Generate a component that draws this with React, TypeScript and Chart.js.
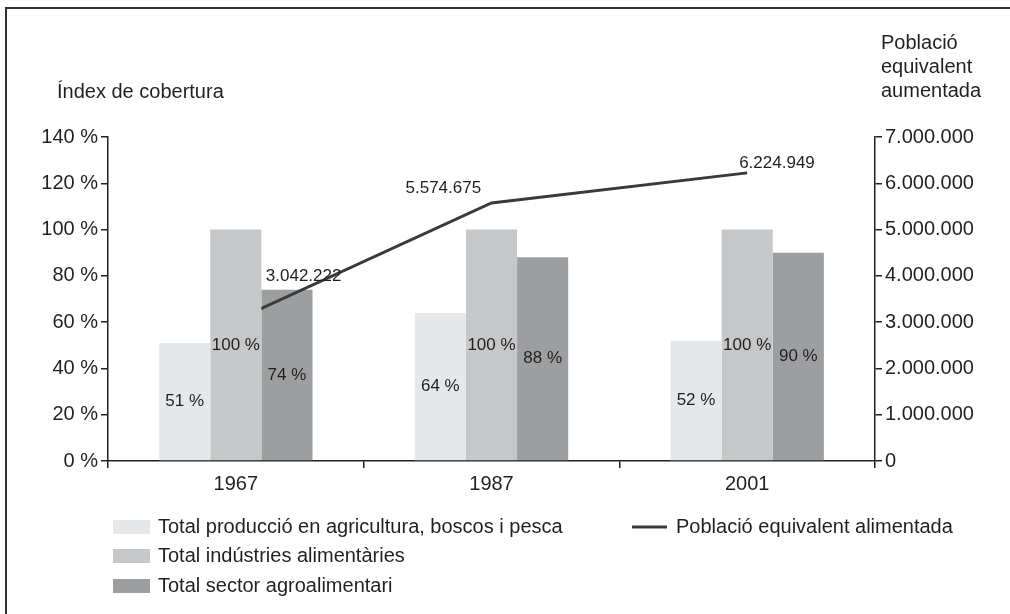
import React, { useEffect, useRef } from "react";
import { Chart, registerables } from "chart.js";

Chart.register(...registerables);

const categories = ["1967", "1987", "2001"];
const agricultura = [51, 64, 52];
const industries = [100, 100, 100];
const sector = [74, 88, 90];
const poblacio = [3042222, 5574675, 6224949];

const seriesNames = [
  "Total producció en agricultura, boscos i pesca",
  "Total indústries alimentàries",
  "Total sector agroalimentari",
  "Població equivalent alimentada",
];
const seriesColors = ["#e6e7e8", "#c6c7c9", "#9d9ea0", "#3a3a3a"];
const leftTitle = "Índex de cobertura";
const rightTitle = ["Població", "equivalent", "aumentada"];
const leftMax = 140;
const leftStep = 20;
const rightMax = 7000000;
const rightStep = 1000000;

// label offsets for the line values (relative to the point)
const lineLabelOffsets = [
  [30, -44],
  [-86, -15],
  [-8, -10],
];

const FONT = "'Liberation Sans', Arial, Helvetica, sans-serif";
const TEXT = "#231f20";

const fmt = (n: number) =>
  String(Math.round(n)).replace(/\B(?=(\d{3})+(?!\d))/g, ".");

export default function App() {
  const ref = useRef<HTMLCanvasElement | null>(null);

  useEffect(() => {
    document.body.style.margin = "0";
    const canvas = ref.current;
    if (!canvas) return;

    const clipLine = {
      id: "clipLine",
      beforeDatasetDraw(chart: any, args: any) {
        if (args.index !== 3) return;
        const bar = chart.getDatasetMeta(2).data[0] as any;
        const left = bar.x - bar.width / 2;
        const ctx = chart.ctx;
        ctx.save();
        ctx.beginPath();
        ctx.rect(left, 0, chart.width - left, chart.height);
        ctx.clip();
      },
      afterDatasetDraw(chart: any, args: any) {
        if (args.index !== 3) return;
        chart.ctx.restore();
      },
    };

    const annotations = {
      id: "annotations",
      afterDatasetsDraw(chart: any) {
        const ctx = chart.ctx;
        ctx.save();
        ctx.fillStyle = TEXT;
        ctx.font = `17px ${FONT}`;
        ctx.textAlign = "center";
        ctx.textBaseline = "middle";
        [0, 1, 2].forEach((di) => {
          const meta = chart.getDatasetMeta(di);
          meta.data.forEach((el: any, i: number) => {
            const v = chart.data.datasets[di].data[i];
            ctx.fillText(`${v} %`, el.x, (el.y + el.base) / 2);
          });
        });
        const lm = chart.getDatasetMeta(3);
        ctx.textAlign = "left";
        lm.data.forEach((el: any, i: number) => {
          const v = chart.data.datasets[3].data[i];
          const [dx, dy] = lineLabelOffsets[i];
          ctx.fillText(fmt(v), el.x + dx, el.y + dy);
        });
        ctx.restore();
      },
      afterDraw(chart: any) {
        const ctx = chart.ctx;
        ctx.save();
        ctx.fillStyle = TEXT;
        ctx.font = `20px ${FONT}`;
        ctx.textBaseline = "middle";
        ctx.textAlign = "left";
        ctx.fillText(leftTitle, 57, 92);
        rightTitle.forEach((t, i) => ctx.fillText(t, 881, 43 + i * 24));

        // legend
        const rows = [527, 556, 586];
        [0, 1, 2].forEach((i) => {
          ctx.fillStyle = seriesColors[i];
          ctx.fillRect(113, rows[i] - 7, 37, 14);
          ctx.fillStyle = TEXT;
          ctx.fillText(seriesNames[i], 158, rows[i]);
        });
        ctx.strokeStyle = seriesColors[3];
        ctx.lineWidth = 3;
        ctx.beginPath();
        ctx.moveTo(632, rows[0]);
        ctx.lineTo(667, rows[0]);
        ctx.stroke();
        ctx.fillStyle = TEXT;
        ctx.fillText(seriesNames[3], 676, rows[0]);
        ctx.restore();
      },
    };

    const axisColor = "#231f20";
    const chart = new Chart(canvas, {
      type: "bar",
      data: {
        labels: categories,
        datasets: [
          {
            label: seriesNames[0],
            data: agricultura,
            backgroundColor: seriesColors[0],
            yAxisID: "y",
            order: 1,
          },
          {
            label: seriesNames[1],
            data: industries,
            backgroundColor: seriesColors[1],
            yAxisID: "y",
            order: 1,
          },
          {
            label: seriesNames[2],
            data: sector,
            backgroundColor: seriesColors[2],
            yAxisID: "y",
            order: 1,
          },
          {
            type: "line",
            label: seriesNames[3],
            data: poblacio,
            borderColor: seriesColors[3],
            backgroundColor: seriesColors[3],
            borderWidth: 3,
            pointRadius: 0,
            tension: 0,
            yAxisID: "y1",
            order: 0,
          } as any,
        ],
      },
      options: {
        responsive: false,
        animation: false,
        devicePixelRatio: 1,
        layout: { padding: { top: 137, left: 0, right: 0, bottom: 0 } },
        datasets: {
          bar: { categoryPercentage: 0.6, barPercentage: 1.0, borderWidth: 0 },
        },
        plugins: {
          legend: { display: false },
          tooltip: { enabled: false },
          title: { display: false },
        },
        scales: {
          x: {
            grid: {
              offset: true,
              drawOnChartArea: false,
              drawTicks: true,
              tickLength: 7,
              color: axisColor,
              lineWidth: 1.5,
            },
            border: { color: axisColor, width: 1.5 },
            ticks: {
              color: TEXT,
              font: { family: FONT, size: 20 },
              padding: 4,
            },
            afterFit: (s: any) => {
              s.height = 153;
            },
          },
          y: {
            position: "left",
            min: 0,
            max: leftMax,
            grid: {
              drawOnChartArea: false,
              drawTicks: true,
              tickLength: 7,
              color: axisColor,
              lineWidth: 1.5,
            },
            border: { color: axisColor, width: 1.5 },
            ticks: {
              stepSize: leftStep,
              color: TEXT,
              font: { family: FONT, size: 20 },
              padding: 3,
              callback: (v: any) => `${v} %`,
            },
            afterFit: (s: any) => {
              s.width = 108;
            },
          },
          y1: {
            position: "right",
            min: 0,
            max: rightMax,
            grid: {
              drawOnChartArea: false,
              drawTicks: true,
              tickLength: 7,
              color: axisColor,
              lineWidth: 1.5,
            },
            border: { color: axisColor, width: 1.5 },
            ticks: {
              stepSize: rightStep,
              color: TEXT,
              font: { family: FONT, size: 20 },
              padding: 3,
              callback: (v: any) => fmt(Number(v)),
            },
            afterFit: (s: any) => {
              s.width = 135;
            },
          },
        },
      } as any,
      plugins: [clipLine, annotations],
    });

    return () => chart.destroy();
  }, []);

  return (
    <div
      style={{
        position: "fixed",
        left: 0,
        top: 0,
        width: 1010,
        height: 614,
        background: "#fff",
        overflow: "hidden",
      }}
    >
      <canvas
        ref={ref}
        width={1010}
        height={614}
        style={{ position: "absolute", left: 0, top: 0, width: 1010, height: 614 }}
      />
      <div
        style={{
          position: "absolute",
          left: 5,
          top: 7,
          width: 1100,
          height: 700,
          borderLeft: "2px solid #333",
          borderTop: "2px solid #333",
          pointerEvents: "none",
        }}
      />
    </div>
  );
}
